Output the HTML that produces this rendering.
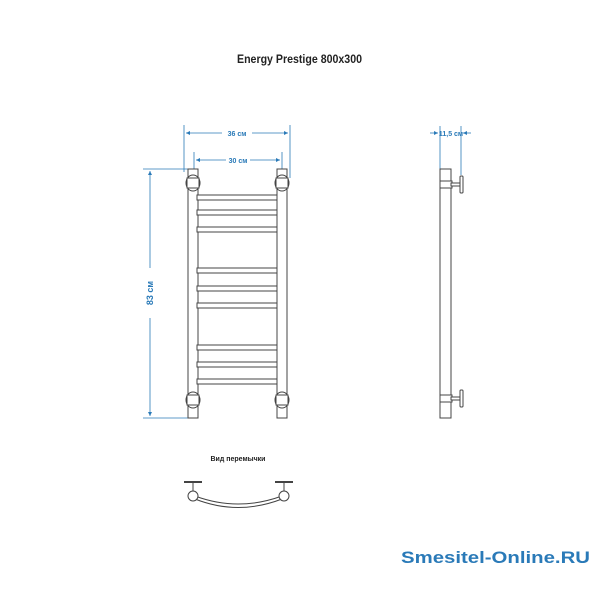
<!DOCTYPE html>
<html><head><style>body{margin:0;background:#fff}svg{display:block}</style></head><body>
<svg width="600" height="600" viewBox="0 0 600 600" xmlns="http://www.w3.org/2000/svg">
<defs><marker id="a" viewBox="0 0 10 10" refX="10" refY="5" markerWidth="6" markerHeight="5" orient="auto-start-reverse"><path d="M0,0L10,5L0,10z" fill="#2a7ab8"/></marker></defs>
<text x="237" y="63" textLength="125" lengthAdjust="spacingAndGlyphs" font-family="Liberation Sans,sans-serif" font-weight="bold" font-size="12" fill="#222">Energy Prestige 800x300</text>
<g stroke="#2a7ab8" stroke-width="0.8" fill="none">
<line x1="184" y1="125" x2="184" y2="172"/><line x1="290" y1="125" x2="290" y2="178"/>
<line x1="186" y1="133" x2="222" y2="133" marker-start="url(#a)"/><line x1="252" y1="133" x2="288" y2="133" marker-end="url(#a)"/>
<line x1="194" y1="152" x2="194" y2="172"/><line x1="282" y1="152" x2="282" y2="172"/>
<line x1="196" y1="160" x2="226" y2="160" marker-start="url(#a)"/><line x1="250" y1="160" x2="280" y2="160" marker-end="url(#a)"/>
<line x1="143" y1="169" x2="188" y2="169"/><line x1="143" y1="418" x2="188" y2="418"/>
<line x1="150" y1="171" x2="150" y2="268" marker-start="url(#a)"/><line x1="150" y1="318" x2="150" y2="416" marker-end="url(#a)"/>
<line x1="440" y1="126" x2="440" y2="190"/><line x1="461" y1="126" x2="461" y2="175"/>
<line x1="430" y1="133" x2="438" y2="133" marker-end="url(#a)"/><line x1="471" y1="133" x2="463" y2="133" marker-end="url(#a)"/>
</g>
<g font-family="Liberation Sans,sans-serif" font-size="7" fill="#2a7ab8" font-weight="bold" text-anchor="middle">
<text x="237" y="136">36 см</text><text x="238" y="163">30 см</text><text x="451" y="136">11,5 см</text>
<text transform="translate(153,293) rotate(-90)" font-size="9">83 см</text>
</g>
<g stroke="#444" stroke-width="1" fill="#fff">
<rect x="188" y="169" width="10" height="249"/><rect x="277" y="169" width="10" height="249"/>
<g>
<rect x="197" y="195" width="80" height="5"/><rect x="197" y="210" width="80" height="5"/><rect x="197" y="227" width="80" height="5"/>
<rect x="197" y="268" width="80" height="5"/><rect x="197" y="286" width="80" height="5"/><rect x="197" y="303" width="80" height="5"/>
<rect x="197" y="345" width="80" height="5"/><rect x="197" y="362" width="80" height="5"/><rect x="197" y="379" width="80" height="5"/>
</g>
<ellipse cx="193" cy="183" rx="7" ry="8"/><rect x="187" y="178" width="12" height="10"/>
<ellipse cx="282" cy="183" rx="7" ry="8"/><rect x="276" y="178" width="12" height="10"/>
<ellipse cx="193" cy="400" rx="7" ry="8"/><rect x="187" y="395" width="12" height="10"/>
<ellipse cx="282" cy="400" rx="7" ry="8"/><rect x="276" y="395" width="12" height="10"/>
<rect x="440" y="169" width="11" height="249"/>
<rect x="440" y="181" width="12" height="7"/><rect x="451" y="183" width="9" height="3"/><rect x="460" y="176" width="3" height="17" rx="1"/>
<rect x="440" y="395" width="12" height="7"/><rect x="451" y="397" width="9" height="3"/><rect x="460" y="390" width="3" height="17" rx="1"/>
<path d="M195,496 Q238,512 282,496 L282,499 Q238,516 195,499 Z"/>
<line x1="184" y1="482" x2="202" y2="482" stroke-width="2"/><line x1="275" y1="482" x2="293" y2="482" stroke-width="2"/>
<line x1="193" y1="483" x2="193" y2="492"/><line x1="284" y1="483" x2="284" y2="492"/>
<circle cx="193" cy="496" r="5"/><circle cx="284" cy="496" r="5"/>
</g>
<text x="238" y="461" text-anchor="middle" font-family="Liberation Sans,sans-serif" font-weight="bold" font-size="7" fill="#222">Вид перемычки</text>
<text x="401" y="563" textLength="189" lengthAdjust="spacingAndGlyphs" font-family="Liberation Sans,sans-serif" font-weight="bold" font-size="17" fill="#2a7ab8">Smesitel-Online.RU</text>
</svg>
</body></html>
